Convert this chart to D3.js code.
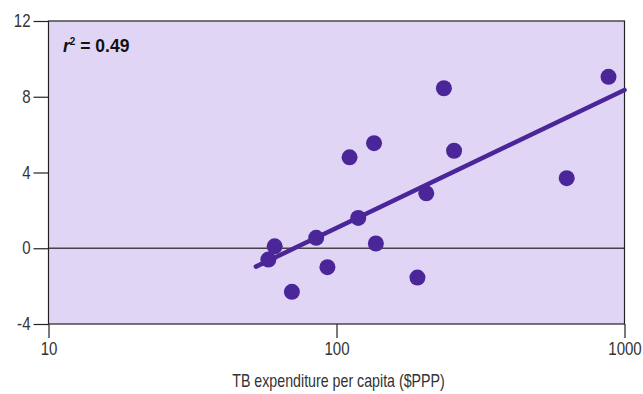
<!DOCTYPE html>
<html><head><meta charset="utf-8">
<script src="https://cdn.jsdelivr.net/npm/d3@7"></script>
<style>
body{margin:0;background:#fff;}
text{font-family:"Liberation Sans",Arial,sans-serif;}
</style></head>
<body><svg id="c" width="643" height="394"></svg>
<script>
const expenditure = [58, 61, 70, 85, 93, 111, 119, 135, 137, 191, 205, 236, 256, 630, 880];
const change = [-0.6, 0.1, -2.3, 0.55, -1.0, 4.8, 1.6, 5.55, 0.25, -1.55, 2.9, 8.45, 5.15, 3.7, 9.05];
const xTicks = [10, 100, 1000];
const yTicks = [-4, 0, 4, 8, 12];
const fitX = [52.5, 1000];
const fitIntercept = -13.51, fitSlope = 7.29;
const r2Label = "0.49";
const xTitle = "TB expenditure per capita ($PPP)";

const svg = d3.select("#c");
const L = 48.5, R = 624.5, T = 21, B = 324;
const x = d3.scaleLog().domain([10, 1000]).range([L, R]);
const y = d3.scaleLinear().domain([-4, 12]).range([B, T]);
const SX = 0.86;

svg.append("rect").attr("x", L).attr("y", T).attr("width", R - L).attr("height", B - T)
  .attr("fill", "#e1d5f5");

svg.append("line").attr("x1", L).attr("x2", R).attr("y1", y(0)).attr("y2", y(0))
  .attr("stroke", "#444").attr("stroke-width", 1.3);

svg.append("rect").attr("x", L).attr("y", T).attr("width", R - L).attr("height", B - T)
  .attr("fill", "none").attr("stroke", "#222").attr("stroke-width", 1.2);

const yAxis = svg.append("g").attr("transform", `translate(${L},0)`)
  .call(d3.axisLeft(y).tickValues(yTicks).tickSize(15).tickPadding(3).tickFormat(d => String(d)));
const xAxis = svg.append("g").attr("transform", `translate(0,${B})`)
  .call(d3.axisBottom(x).tickValues(xTicks).tickSize(14).tickPadding(5).tickFormat(d => String(d)));
[yAxis, xAxis].forEach(g => {
  g.select(".domain").remove();
  g.selectAll("line").attr("stroke", "#222").attr("stroke-width", 1.2);
  g.selectAll("text").attr("fill", "#333").style("font-size", "17.5px")
    .each(function() {
      const t = d3.select(this);
      const xv = +t.attr("x") || 0;
      t.attr("x", xv / SX).attr("transform", `scale(${SX},1)`);
    });
});

svg.append("text").attr("transform", `translate(${(L + R) / 2 + 2},387) scale(0.79,1)`)
  .attr("text-anchor", "middle")
  .attr("fill", "#333").style("font-size", "18px").text(xTitle);

svg.append("line")
  .attr("x1", x(fitX[0])).attr("y1", y(fitIntercept + fitSlope * Math.log10(fitX[0])))
  .attr("x2", x(fitX[1])).attr("y2", y(fitIntercept + fitSlope * Math.log10(fitX[1])))
  .attr("stroke", "#4b2699").attr("stroke-width", 4.5).attr("stroke-linecap", "round");

svg.append("g").selectAll("circle").data(expenditure).join("circle")
  .attr("cx", d => x(d)).attr("cy", (d, i) => y(change[i])).attr("r", 8)
  .attr("fill", "#4b2699");

const t = svg.append("text").attr("transform", "translate(63,52)").attr("fill", "#111")
  .style("font-size", "17.5px").style("font-weight", "bold");
t.append("tspan").style("font-style", "italic").text("r");
t.append("tspan").attr("dy", -7).style("font-size", "10px").text("2");
t.append("tspan").attr("dy", 7).text(" = " + r2Label);
</script></body></html>
